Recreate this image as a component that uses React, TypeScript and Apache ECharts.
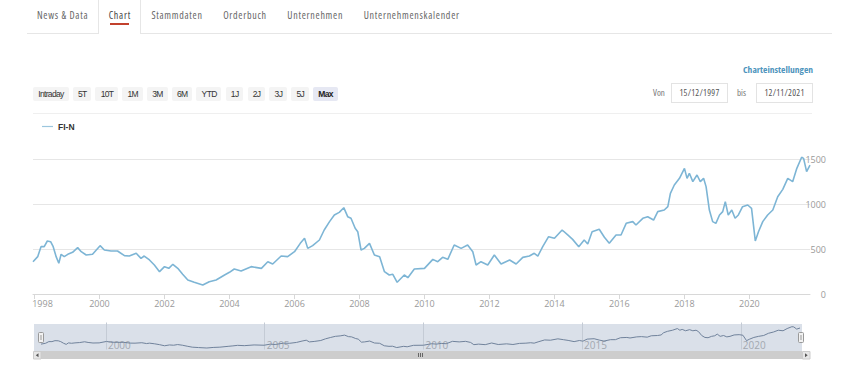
import React, { useEffect, useRef } from "react";
import * as echarts from "echarts";

const seriesName = "FI-N";

const dates: string[] = [
  "1997-12-15",
  "1998-02-06", "1998-03-15", "1998-04-20", "1998-05-25", "1998-07-01", "1998-07-30", "1998-09-01", "1998-10-01", "1998-10-27", "1998-12-01",
  "1999-01-10", "1999-03-05", "1999-05-01", "1999-06-10", "1999-08-05", "1999-10-15",
  "2000-01-08", "2000-02-25", "2000-05-10", "2000-07-22", "2000-10-08", "2000-12-01",
  "2001-02-17", "2001-04-12", "2001-05-18", "2001-07-16", "2001-09-09", "2001-11-06",
  "2002-01-01", "2002-02-18", "2002-04-05", "2002-05-30", "2002-07-24", "2002-09-20", "2002-12-01",
  "2003-03-07", "2003-05-19", "2003-08-04", "2003-11-07",
  "2004-01-01", "2004-02-24", "2004-05-11", "2004-09-01", "2004-12-25",
  "2005-03-07", "2005-05-01", "2005-08-04", "2005-10-16",
  "2006-01-01", "2006-03-07", "2006-04-24", "2006-05-30", "2006-07-24", "2006-10-08", "2006-12-01",
  "2007-01-30", "2007-03-25", "2007-05-19", "2007-07-09", "2007-08-22", "2007-09-28", "2007-11-14", "2007-12-13",
  "2008-01-19", "2008-02-25", "2008-04-23", "2008-06-17", "2008-08-15", "2008-10-08", "2008-12-01",
  "2009-01-10", "2009-02-28", "2009-05-19", "2009-06-28", "2009-09-09",
  "2010-01-01", "2010-04-05", "2010-05-30", "2010-07-24", "2010-09-20", "2010-12-01",
  "2011-02-17", "2011-05-01", "2011-06-28", "2011-08-04", "2011-09-28", "2011-12-13",
  "2012-02-25", "2012-05-11", "2012-08-15", "2012-10-27",
  "2013-01-10", "2013-03-25", "2013-05-19", "2013-06-28", "2013-08-22", "2013-10-27",
  "2014-01-01", "2014-03-28", "2014-05-30", "2014-07-24", "2014-10-01", "2014-12-01",
  "2015-01-10", "2015-02-28", "2015-05-19", "2015-07-16", "2015-09-09", "2015-11-24",
  "2016-01-19", "2016-03-17", "2016-05-30", "2016-07-05", "2016-09-20", "2016-11-14",
  "2017-01-19", "2017-03-07", "2017-05-19", "2017-06-28", "2017-07-27", "2017-09-09", "2017-11-06",
  "2018-01-01", "2018-01-30", "2018-02-25", "2018-04-05", "2018-05-22", "2018-06-28", "2018-08-04", "2018-09-01", "2018-10-08", "2018-11-14", "2018-12-20",
  "2019-01-30", "2019-03-07", "2019-04-05", "2019-05-08", "2019-06-17", "2019-07-24", "2019-08-30", "2019-10-16", "2019-12-13",
  "2020-01-25", "2020-03-07", "2020-04-12", "2020-05-30", "2020-07-24", "2020-09-20", "2020-11-14",
  "2021-01-10", "2021-03-07", "2021-05-01", "2021-06-17", "2021-08-10", "2021-09-01", "2021-10-05", "2021-11-12",
];

const values: number[] = [
  359,
  415, 526, 526, 589, 581, 526, 415, 341, 441, 415,
  441, 463, 515, 470, 433, 441,
  537, 489, 478, 478, 426, 422,
  452, 396, 422, 378, 322, 248,
  304, 285, 330, 285, 219, 156, 130,
  100, 137, 156, 211,
  241, 278, 256, 304, 285,
  359, 333, 422, 415,
  470, 563, 619, 507, 537, 600, 711,
  804, 878, 907, 959, 859, 841, 730, 692,
  489, 507, 563, 433, 415, 248, 211,
  219, 130, 211, 181, 278,
  285, 385, 359, 407, 385, 544,
  507, 544, 470, 322, 359, 322,
  433, 333, 378, 333,
  407, 422, 452, 422, 526, 637,
  619, 711, 656, 607, 526, 600,
  556, 692, 719, 630, 563, 656,
  656, 785, 804, 767, 841, 859,
  822, 915, 933, 970, 1119, 1211, 1285,
  1396, 1285, 1341, 1248, 1322, 1248, 1285, 1193, 933, 804, 785,
  878, 915, 1026, 878, 933, 841, 878, 970, 989,
  952, 590, 692, 804, 878, 933, 1081,
  1163, 1285, 1248, 1396, 1519, 1507, 1359, 1433,
];

const rangeStart = "1997-12-15";
const rangeEnd = "2021-11-12";
const yTicks = [0, 500, 1000, 1500];
const xLabelYears = [1998, 2000, 2002, 2004, 2006, 2008, 2010, 2012, 2014, 2016, 2018, 2020];
const navYears = [2000, 2005, 2010, 2015, 2020];

const tabs = ["News & Data", "Chart", "Stammdaten", "Orderbuch", "Unternehmen", "Unternehmenskalender"];
const activeTab = "Chart";
const rangeButtons = ["Intraday", "5T", "10T", "1M", "3M", "6M", "YTD", "1J", "2J", "3J", "5J", "Max"];
const activeRange = "Max";
const settingsLabel = "Charteinstellungen";
const fromLabel = "Von";
const toLabel = "bis";
const fromDate = "15/12/1997";
const toDate = "12/11/2021";

const FONT = "'Open Sans', 'Noto Sans', sans-serif";
const BTN_FONT = "'Liberation Sans', Arial, sans-serif";
const NARROW = "80%";

const ts = (d: string) => new Date(d + "T00:00:00Z").getTime();
const yearTs = (y: number) => Date.UTC(y, 0, 1);
const yearOf = (v: number) => new Date(v).getUTCFullYear();

export default function App() {
  const ref = useRef<HTMLDivElement>(null);

  useEffect(() => {
    if (!ref.current) return;
    const chart = echarts.init(ref.current, undefined, { renderer: "svg" });
    const data = dates.map((d, i) => [ts(d), values[i]]);
    const firstYear = xLabelYears[0];
    const xMin = ts(rangeStart);
    const xMax = ts(rangeEnd);

    chart.setOption({
      animation: false,
      legend: {
        data: [seriesName],
        left: 37,
        top: 117,
        icon: "rect",
        itemWidth: 11,
        itemHeight: 1.2,
        itemStyle: { color: "#9cc6de" },
        textStyle: { fontFamily: BTN_FONT, fontSize: 8.5, fontWeight: "bold", color: "#333" },
        selectedMode: false,
      },
      grid: [
        { left: 33, right: 50, top: 159, height: 135, containLabel: false },
        { left: 41, right: 60, top: 324, height: 27, containLabel: false },
      ],
      xAxis: [
        {
          type: "value",
          gridIndex: 0,
          min: xMin,
          max: xMax,
          axisLine: { lineStyle: { color: "#d8d8d8" } },
          axisTick: {
            show: true,
            length: 5,
            lineStyle: { color: "#d8d8d8" },
            customValues: xLabelYears.map(yearTs),
          },
          axisLabel: {
            customValues: xLabelYears.map(yearTs),
            margin: 5,
            formatter: (v: number) => {
              const y = yearOf(v);
              return y === firstYear ? `{f|${y}}` : `{n|${y}}`;
            },
            rich: {
              f: { fontFamily: FONT, fontSize: 9, color: "#999", padding: [0, 0, 0, 16] },
              n: { fontFamily: FONT, fontSize: 9, color: "#999" },
            },
          },
          splitLine: { show: false },
        },
        {
          type: "value",
          gridIndex: 1,
          min: xMin,
          max: xMax,
          axisLine: { show: false },
          axisTick: {
            show: true,
            inside: true,
            length: 27,
            lineStyle: { color: "#c4cbd5" },
            customValues: navYears.map(yearTs),
          },
          axisLabel: {
            inside: true,
            customValues: navYears.map(yearTs),
            margin: 1,
            align: "left",
            padding: [0, 0, 0, 2],
            fontFamily: FONT,
            fontSize: 10,
            color: "#a3a8b0",
            formatter: (v: number) => String(yearOf(v)),
          },
          splitLine: { show: false },
        },
      ],
      yAxis: [
        {
          type: "value",
          gridIndex: 0,
          position: "right",
          min: yTicks[0],
          max: yTicks[yTicks.length - 1],
          interval: yTicks[1] - yTicks[0],
          axisLine: { show: false },
          axisTick: { show: false },
          splitLine: { lineStyle: { color: "#e6e6e6" } },
          axisLabel: {
            margin: 16,
            align: "right",
            padding: [0, 0, 6, 0],
            fontFamily: FONT,
            fontSize: 9,
            color: "#999",
            formatter: (v: number) => String(v),
          },
        },
        {
          type: "value",
          gridIndex: 1,
          min: -100,
          max: 1700,
          show: false,
          splitLine: { show: false },
        },
      ],
      series: [
        {
          name: seriesName,
          type: "line",
          xAxisIndex: 0,
          yAxisIndex: 0,
          data,
          showSymbol: false,
          clip: false,
          itemStyle: { color: "#7db5d5" },
          lineStyle: { color: "#7db5d5", width: 1.6 },
          z: 5,
        },
        {
          name: "navigator",
          type: "line",
          xAxisIndex: 1,
          yAxisIndex: 1,
          data,
          showSymbol: false,
          silent: true,
          lineStyle: { color: "#70829b", width: 1 },
          z: 5,
        },
      ],
      graphic: [
        { type: "rect", z: 0, silent: true, shape: { x: 34, y: 324, width: 768, height: 27 }, style: { fill: "#dae0e9" } },
        { type: "rect", z: 10, shape: { x: 41, y: 351, width: 761, height: 8 }, style: { fill: "#cdcdcd" } },
        { type: "rect", z: 10, shape: { x: 33.5, y: 351.5, width: 7.5, height: 7.5 }, style: { fill: "#e6e6e6", stroke: "#cccccc", lineWidth: 1 } },
        { type: "rect", z: 10, shape: { x: 802.5, y: 351.5, width: 7.5, height: 7.5 }, style: { fill: "#e6e6e6", stroke: "#cccccc", lineWidth: 1 } },
        { type: "polygon", z: 11, shape: { points: [[38.5, 353.2], [38.5, 357.2], [35.8, 355.2]] }, style: { fill: "#555" } },
        { type: "polygon", z: 11, shape: { points: [[805, 353.2], [805, 357.2], [807.7, 355.2]] }, style: { fill: "#555" } },
        { type: "line", z: 11, shape: { x1: 418.5, y1: 353, x2: 418.5, y2: 357 }, style: { stroke: "#666", lineWidth: 1 } },
        { type: "line", z: 11, shape: { x1: 420.5, y1: 353, x2: 420.5, y2: 357 }, style: { stroke: "#666", lineWidth: 1 } },
        { type: "line", z: 11, shape: { x1: 422.5, y1: 353, x2: 422.5, y2: 357 }, style: { stroke: "#666", lineWidth: 1 } },
        { type: "rect", z: 12, shape: { x: 38.5, y: 332.5, width: 5, height: 10, r: 1 }, style: { fill: "#f2f2f2", stroke: "#999", lineWidth: 1 } },
        { type: "line", z: 13, shape: { x1: 41, y1: 335, x2: 41, y2: 340 }, style: { stroke: "#999", lineWidth: 1 } },
        { type: "rect", z: 12, shape: { x: 798.5, y: 332.5, width: 5, height: 10, r: 1 }, style: { fill: "#f2f2f2", stroke: "#999", lineWidth: 1 } },
        { type: "line", z: 13, shape: { x1: 801, y1: 335, x2: 801, y2: 340 }, style: { stroke: "#999", lineWidth: 1 } },
      ],
    });

    return () => chart.dispose();
  }, []);

  return (
    <div style={{ position: "absolute", left: 0, top: 0, width: 860, height: 385, background: "#fff", overflow: "hidden" }}>
      <div ref={ref} style={{ position: "absolute", left: 0, top: 0, width: 860, height: 385 }} />

      <div style={{ position: "absolute", left: 27, top: 33, width: 805, height: 1, background: "#e6e6e6" }} />
      <div style={{ position: "absolute", left: 26.5, top: 0, height: 34, display: "flex", fontFamily: FONT, fontStretch: NARROW, letterSpacing: 0.72, fontSize: 10, color: "#666" }}>
        {tabs.map((t) => {
          const active = t === activeTab;
          return (
            <div
              key={t}
              style={{
                position: "relative",
                height: active ? 34 : 33,
                lineHeight: "31px",
                padding: "0 9px 0 9.5px",
                borderLeft: `1px solid ${active ? "#e6e6e6" : "transparent"}`,
                borderRight: `1px solid ${active ? "#e6e6e6" : "transparent"}`,
                background: active ? "#fff" : "transparent",
                color: active ? "#444" : "#666",
                whiteSpace: "nowrap",
                boxSizing: "border-box",
              }}
            >
              {t}
              {active && (
                <div style={{ position: "absolute", left: 10.5, right: 10.5, top: 22.5, height: 2, background: "#c2412d" }} />
              )}
            </div>
          );
        })}
      </div>

      <div style={{ position: "absolute", right: 47, top: 63, fontFamily: FONT, fontStretch: NARROW, fontSize: 9.5, fontWeight: "bold", color: "#4e95bd", whiteSpace: "nowrap" }}>
        {settingsLabel}
      </div>

      <div style={{ position: "absolute", left: 33, top: 87, display: "flex", gap: 4.2, fontFamily: BTN_FONT, fontSize: 8.5, letterSpacing: -0.65 }}>
        {rangeButtons.map((b) => {
          const active = b === activeRange;
          return (
            <div
              key={b}
              style={{
                height: 14,
                lineHeight: "14px",
                padding: "0 4.8px 0 5.2px",
                background: active ? "#e6e8f3" : "#f4f4f4",
                color: active ? "#222" : "#333",
                fontWeight: active ? "bold" : "normal",
                borderRadius: 2,
                whiteSpace: "nowrap",
              }}
            >
              {b}
            </div>
          );
        })}
      </div>

      <div style={{ position: "absolute", left: 653, top: 87, fontFamily: FONT, fontStretch: NARROW, fontSize: 9, color: "#777", lineHeight: "12px" }}>{fromLabel}</div>
      <div style={{ position: "absolute", left: 671, top: 83, width: 57, height: 20, border: "1px solid #e3e3e3", boxSizing: "border-box", fontFamily: FONT, fontStretch: NARROW, fontSize: 9, color: "#555", lineHeight: "18px", textAlign: "center", letterSpacing: 0.3 }}>{fromDate}</div>
      <div style={{ position: "absolute", left: 737, top: 87, fontFamily: FONT, fontStretch: NARROW, fontSize: 9, color: "#777", lineHeight: "12px" }}>{toLabel}</div>
      <div style={{ position: "absolute", left: 756, top: 83, width: 57, height: 20, border: "1px solid #e3e3e3", boxSizing: "border-box", fontFamily: FONT, fontStretch: NARROW, fontSize: 9, color: "#555", lineHeight: "18px", textAlign: "center", letterSpacing: 0.3 }}>{toDate}</div>

      <div style={{ position: "absolute", left: 33, top: 113, width: 779, height: 1, background: "#efefef" }} />
    </div>
  );
}
